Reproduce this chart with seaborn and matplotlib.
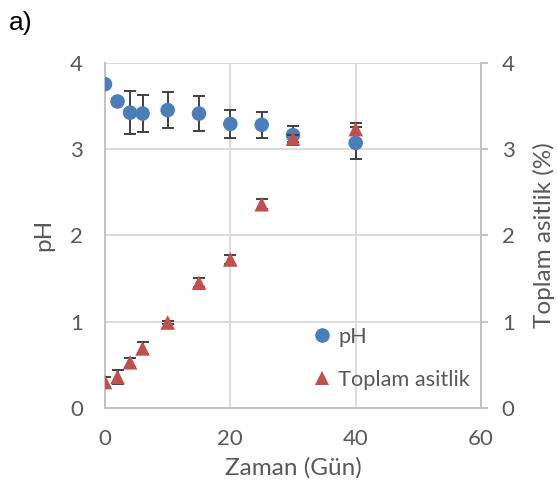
import matplotlib
matplotlib.use("Agg")
import matplotlib.pyplot as plt
from matplotlib.lines import Line2D
import seaborn as sns

# Fermentation time (days)
days = [0, 2, 4, 6, 10, 15, 20, 25, 30, 40]
# pH and its standard deviation
ph = [3.75, 3.55, 3.42, 3.41, 3.45, 3.41, 3.29, 3.28, 3.16, 3.07]
ph_err = [0.0, 0.0, 0.25, 0.21, 0.21, 0.20, 0.16, 0.15, 0.11, 0.19]
# Total acidity (%) and its standard deviation
acidity = [0.30, 0.36, 0.53, 0.69, 0.99, 1.45, 1.72, 2.36, 3.12, 3.23]
acidity_err = [0.06, 0.08, 0.05, 0.07, 0.02, 0.05, 0.05, 0.06, 0.04, 0.07]

x_ticks = [0, 20, 40, 60]
y_ticks = [0, 1, 2, 3, 4]

sns.set_theme(style="white")
plt.rcParams["font.family"] = ["Lato", "DejaVu Sans"]

BLUE = "#4A7EBB"
RED = "#C0504D"
GREY_TXT = "#595959"
GRID = "#D9D9D9"
SPINE = "#BFBFBF"
ERR = "#404040"
TICK_FS = 16
LABEL_FS = 17.5

fig = plt.figure(figsize=(5.57, 4.93), dpi=100)
ax = fig.add_axes([0.1885, 0.1724, 0.6751, 0.7006])

ax.set_xlim(0, 60)
ax.set_ylim(0, 4)
ax.set_xticks(x_ticks)
ax.set_yticks(y_ticks)
ax.grid(True, color=GRID, linewidth=1.3)
ax.set_axisbelow(True)
for side in ["top", "right"]:
    ax.spines[side].set_visible(False)
for side in ["left", "bottom"]:
    ax.spines[side].set_color(SPINE)
    ax.spines[side].set_linewidth(1.3)
ax.tick_params(axis="x", length=0, labelsize=TICK_FS, colors=GREY_TXT, pad=15)
ax.tick_params(axis="y", length=0, labelsize=TICK_FS, colors=GREY_TXT, pad=16)

ax.errorbar(days, ph, yerr=ph_err, fmt="none", ecolor=ERR, elinewidth=1.4,
            capsize=4.5, capthick=1.4, zorder=3)
sns.scatterplot(x=days, y=ph, ax=ax, marker="o", s=110, color=BLUE,
                edgecolor="none", linewidth=0, zorder=4, legend=False)

ax.set_xlabel("Zaman (Gün)", fontsize=LABEL_FS, color=GREY_TXT, labelpad=6)
ax.set_ylabel("pH", fontsize=LABEL_FS, color=GREY_TXT, labelpad=11)

ax2 = ax.twinx()
ax2.set_ylim(0, 4)
ax2.set_yticks(y_ticks)
for side in ["top", "left", "bottom"]:
    ax2.spines[side].set_visible(False)
ax2.spines["right"].set_color(SPINE)
ax2.spines["right"].set_linewidth(1.3)
ax2.tick_params(axis="y", length=5, width=1.3, labelsize=TICK_FS,
                colors=GREY_TXT, pad=10)
ax2.tick_params(axis="y", color=SPINE)
ax2.errorbar(days, acidity, yerr=acidity_err, fmt="none", ecolor=ERR,
             elinewidth=1.4, capsize=4.5, capthick=1.4, zorder=3)
sns.scatterplot(x=days, y=acidity, ax=ax2, marker="^", s=110, color=RED,
                edgecolor="none", linewidth=0, zorder=4, legend=False)
ax2.set_ylabel("Toplam asitlik (%)", fontsize=LABEL_FS, color=GREY_TXT,
               labelpad=13)
ax2.grid(False)

handles = [
    Line2D([], [], marker="o", linestyle="none", markersize=10.5,
           markerfacecolor=BLUE, markeredgewidth=0, label="pH"),
    Line2D([], [], marker="^", linestyle="none", markersize=10.5,
           markerfacecolor=RED, markeredgewidth=0, label="Toplam asitlik"),
]
leg = ax2.legend(handles=handles, loc="upper left", bbox_to_anchor=(0.524, 0.266),
                 frameon=False, fontsize=15.7, handlelength=0.8,
                 handletextpad=0.35, labelspacing=1.05, borderpad=0)
for t in leg.get_texts():
    t.set_color(GREY_TXT)

fig.text(0.016, 0.940, "a)", fontsize=19, color="black",
         family=["Liberation Sans", "DejaVu Sans"], va="baseline")

fig.savefig("out.png", dpi=100)
